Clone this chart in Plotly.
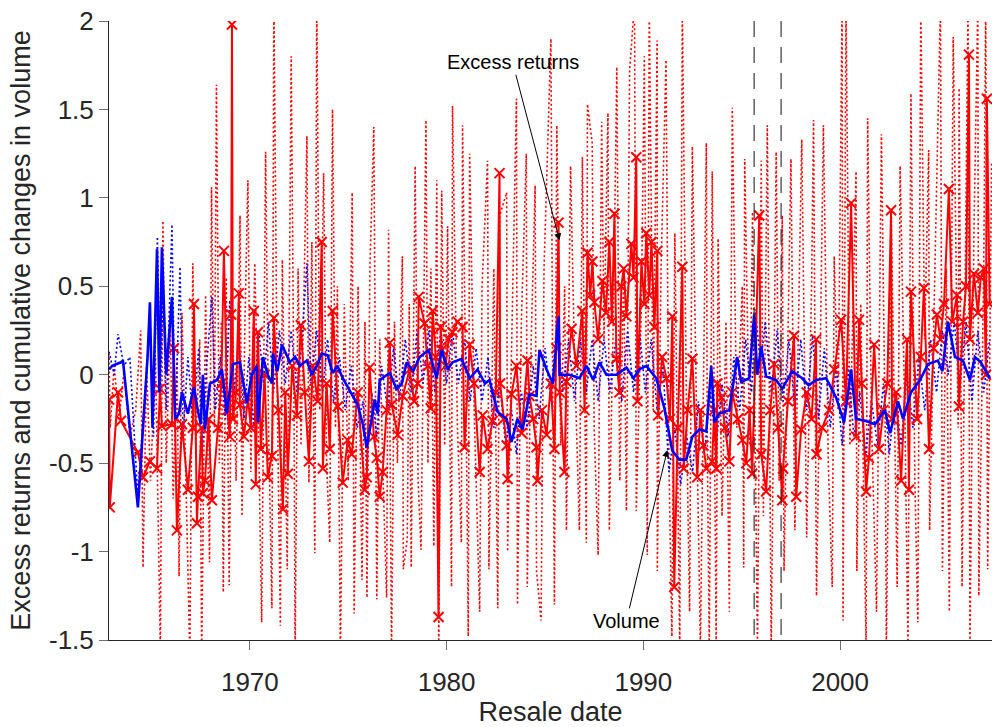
import plotly.graph_objects as go

# ---------------- data ----------------
# Excess returns (red solid line with x markers)
ret_x = [1962.84, 1962.88, 1963.30, 1963.45, 1964.31, 1964.57, 1964.92, 1965.28, 1965.43, 1965.53,
         1966.04, 1966.14, 1966.29, 1966.55, 1966.85, 1967.10, 1967.16, 1967.31, 1967.36, 1967.55,
         1967.61, 1967.72, 1967.90, 1968.07, 1968.38, 1968.55, 1968.68, 1968.85, 1968.98, 1969.05,
         1969.09, 1969.14, 1969.30, 1969.44, 1969.49, 1969.70, 1969.90, 1970.05, 1970.20, 1970.30,
         1970.41, 1970.56, 1970.75, 1970.91, 1971.12, 1971.22, 1971.45, 1971.68, 1971.80, 1971.93,
         1972.15, 1972.39, 1972.59, 1972.79, 1973.00, 1973.20, 1973.45, 1973.65, 1973.71, 1973.90,
         1974.06, 1974.21, 1974.47, 1974.72, 1974.97, 1975.18, 1975.48, 1975.84, 1975.94, 1976.09,
         1976.30, 1976.45, 1976.60, 1976.75, 1976.95, 1977.11, 1977.21, 1977.51, 1977.77, 1978.12,
         1978.35, 1978.53, 1978.58, 1978.88, 1979.05, 1979.19, 1979.29, 1979.45, 1979.59, 1979.70,
         1979.75, 1979.95, 1980.10, 1980.30, 1980.56, 1980.81, 1980.91, 1981.17, 1981.40, 1981.68,
         1981.83, 1982.08, 1982.34, 1982.50, 1982.69, 1982.72, 1982.90, 1983.05, 1983.10, 1983.30,
         1983.55, 1983.81, 1984.11, 1984.21, 1984.40, 1984.57, 1984.62, 1984.85, 1985.08, 1985.30,
         1985.48, 1985.58, 1985.69, 1985.75, 1985.99, 1986.09, 1986.35, 1986.60, 1986.90, 1987.01,
         1987.16, 1987.30, 1987.41, 1987.51, 1987.70, 1987.92, 1988.10, 1988.27, 1988.40, 1988.53,
         1988.63, 1988.78, 1988.88, 1989.00, 1989.14, 1989.39, 1989.50, 1989.64, 1989.70, 1989.90,
         1990.05, 1990.15, 1990.30, 1990.41, 1990.56, 1990.71, 1990.75, 1990.95, 1991.17, 1991.35,
         1991.47, 1991.57, 1991.75, 1991.98, 1992.05, 1992.25, 1992.49, 1992.74, 1992.90, 1993.05,
         1993.20, 1993.50, 1993.60, 1993.71, 1993.76, 1993.96, 1994.15, 1994.37, 1994.52, 1994.80,
         1995.03, 1995.23, 1995.40, 1995.53, 1995.89, 1995.99, 1996.24, 1996.45, 1996.65, 1996.85,
         1997.06, 1997.10, 1997.35, 1997.66, 1997.77, 1998.02, 1998.30, 1998.55, 1998.78, 1998.80,
         1999.09, 1999.44, 1999.70, 2000.05, 2000.30, 2000.56, 2000.81, 2000.96, 2001.10, 2001.32,
         2001.47, 2001.73, 2001.98, 2002.20, 2002.40, 2002.59, 2002.64, 2002.85, 2003.10, 2003.40,
         2003.50, 2003.60, 2003.91, 2004.10, 2004.26, 2004.52, 2004.75, 2004.92, 2005.10, 2005.28,
         2005.53, 2005.70, 2005.94, 2006.04, 2006.25, 2006.40, 2006.55, 2006.60, 2006.80, 2007.00,
         2007.15, 2007.31, 2007.41, 2007.46, 2007.60]
ret_y = [-0.14, -0.75, -0.10, -0.26, -0.44, -0.58, -0.49, -0.53, -0.08, -0.29,
         -0.28, 0.15, -0.88, -0.28, -0.65, -0.30, 0.40, -0.84, -0.69, -0.30,
         -0.67, -0.60, -0.25, -0.71, -0.30, -0.05, 0.70, -0.20, -0.35, 0.34,
         1.98, -0.25, -0.10, 0.46, -0.17, -0.35, -0.13, -0.30, 0.36, -0.62,
         0.24, -0.42, 0.00, -0.58, -0.46, 0.32, -0.20, -0.76, -0.10, -0.56,
         0.05, -0.23, 0.28, -0.10, -0.49, 0.05, -0.15, 0.75, -0.53, -0.05,
         -0.42, 0.36, -0.18, -0.61, -0.37, -0.45, -0.10, -0.65, -0.58, 0.04,
         -0.35, -0.47, -0.69, -0.55, -0.20, 0.18, -0.17, -0.34, -0.12, 0.03,
         -0.15, -0.05, 0.44, 0.29, 0.05, -0.19, 0.36, 0.10, -1.37, 0.27,
         0.14, 0.05, 0.20, 0.24, 0.30, 0.27, -0.41, 0.17, -0.05, -0.55,
         -0.23, -0.42, -0.26, -0.10, 1.14, -0.05, -0.25, -0.40, -0.59, -0.11,
         0.05, -0.33, 0.08, -0.12, -0.25, -0.41, -0.60, -0.20, -0.34, -0.05,
         -0.42, 0.15, 0.86, -0.10, -0.55, -0.04, 0.26, 0.05, 0.36, -0.20,
         0.69, 0.45, 0.64, 0.41, 0.20, 0.53, 0.35, 0.75, 0.30, 0.91,
         0.09, -0.10, 0.50, 0.60, 0.33, 0.74, 0.55, 1.23, -0.15, 0.64,
         0.40, 0.80, 0.45, 0.75, 0.27, 0.70, -0.23, 0.10, -0.02, -0.25,
         0.33, -1.20, -0.30, 0.61, -0.53, -0.20, 0.09, -0.58, -0.20, -0.40,
         -0.53, -0.49, -0.20, -0.53, -0.05, -0.13, -0.30, -0.49, -0.10, -0.25,
         -0.37, -0.50, -0.20, -0.56, 0.90, -0.45, -0.66, -0.20, 0.06, -0.30,
         -0.71, -0.53, -0.15, 0.22, -0.69, -0.31, -0.10, -0.25, 0.20, -0.45,
         -0.30, -0.20, 0.03, 0.31, -0.15, 0.97, -0.35, 0.31, -0.05, -0.66,
         -0.47, 0.17, -0.42, -0.20, -0.05, 0.93, -0.25, -0.10, -0.60, 0.20,
         -0.65, 0.47, -0.25, 0.10, 0.49, -0.42, 0.15, 0.34, 0.20, 0.40,
         1.05, 0.30, 0.45, -0.18, 0.30, 0.50, 1.81, 0.20, 0.57, 0.35,
         0.55, 0.60, 0.00, 1.56, 0.40]

# Individual excess returns (red dotted line)
ind_x = [1962.84, 1962.90, 1963.10, 1963.35, 1963.60, 1963.90, 1964.20, 1964.45, 1964.57, 1964.75,
         1964.95, 1965.20, 1965.45, 1965.58, 1965.75, 1965.95, 1966.10, 1966.30, 1966.40, 1966.55,
         1966.75, 1966.95, 1967.10, 1967.25, 1967.45, 1967.55, 1967.75, 1967.95, 1968.05, 1968.20,
         1968.30, 1968.45, 1968.55, 1968.65, 1968.80, 1968.95, 1969.10, 1969.30, 1969.50, 1969.60,
         1969.75, 1969.90, 1970.05, 1970.25, 1970.45, 1970.60, 1970.80, 1970.95, 1971.12, 1971.22,
         1971.40, 1971.55, 1971.65, 1971.80, 1971.90, 1972.10, 1972.25, 1972.30, 1972.45, 1972.60,
         1972.90, 1973.00, 1973.15, 1973.30, 1973.40, 1973.55, 1973.75, 1973.90, 1974.06, 1974.20,
         1974.35, 1974.45, 1974.60, 1974.80, 1975.00, 1975.20, 1975.30, 1975.50, 1975.70, 1975.85,
         1975.95, 1976.10, 1976.30, 1976.45, 1976.60, 1976.80, 1976.95, 1977.05, 1977.20, 1977.35,
         1977.50, 1977.75, 1977.80, 1978.00, 1978.10, 1978.20, 1978.40, 1978.55, 1978.70, 1978.95,
         1979.05, 1979.20, 1979.35, 1979.50, 1979.60, 1979.75, 1979.90, 1980.05, 1980.20, 1980.25,
         1980.30, 1980.55, 1980.75, 1980.81, 1981.00, 1981.10, 1981.17, 1981.40, 1981.68, 1981.80,
         1982.08, 1982.15, 1982.40, 1982.60, 1982.70, 1983.05, 1983.10, 1983.35, 1983.55, 1983.60,
         1983.80, 1984.05, 1984.10, 1984.30, 1984.50, 1984.57, 1984.80, 1984.95, 1985.30, 1985.40,
         1985.48, 1985.60, 1985.80, 1986.00, 1986.09, 1986.30, 1986.50, 1986.75, 1986.90, 1987.10,
         1987.16, 1987.40, 1987.50, 1987.70, 1987.88, 1988.00, 1988.20, 1988.27, 1988.50, 1988.65,
         1988.80, 1989.00, 1989.14, 1989.30, 1989.55, 1989.64, 1989.90, 1990.05, 1990.20, 1990.30,
         1990.50, 1990.70, 1990.71, 1990.90, 1991.15, 1991.30, 1991.45, 1991.60, 1991.85, 1991.98,
         1992.20, 1992.35, 1992.49, 1992.70, 1992.90, 1993.20, 1993.25, 1993.35, 1993.50, 1993.70,
         1993.80, 1994.00, 1994.20, 1994.37, 1994.52, 1994.75, 1995.03, 1995.10, 1995.15, 1995.40,
         1995.55, 1995.80, 1995.99, 1996.10, 1996.30, 1996.50, 1996.75, 1996.90, 1997.06, 1997.15,
         1997.50, 1997.70, 1997.90, 1998.05, 1998.30, 1998.55, 1998.65, 1998.80, 1999.00, 1999.15,
         1999.40, 1999.60, 1999.70, 1999.90, 2000.10, 2000.15, 2000.30, 2000.50, 2000.81, 2000.85,
         2001.05, 2001.32, 2001.40, 2001.60, 2001.85, 2002.10, 2002.30, 2002.35, 2002.60, 2002.90,
         2003.05, 2003.30, 2003.45, 2003.60, 2003.80, 2003.95, 2004.10, 2004.30, 2004.50, 2004.55,
         2004.80, 2005.10, 2005.20, 2005.40, 2005.55, 2005.75, 2006.00, 2006.05, 2006.20, 2006.50,
         2006.60, 2006.80, 2007.00, 2007.05, 2007.30, 2007.40, 2007.50, 2007.70]
ind_y = [0.12, -0.30, 0.05, -0.25, 0.02, -0.35, -0.20, 0.25, -1.09, 0.05,
         -0.60, 0.10, -1.55, 0.87, -0.50, 0.30, -0.70, 0.10, -1.14, 0.35,
         -0.60, -1.60, 0.63, -0.40, 0.20, -1.60, 0.45, -1.06, 1.06, -0.30,
         1.64, -0.50, 0.30, -1.23, 0.55, -1.19, 0.40, -0.60, 0.90, -0.80,
         0.30, 1.10, -0.55, 0.63, -0.40, -1.40, 1.26, -0.30, -1.32, 2.10,
         -0.20, -1.42, 0.65, -0.50, -1.10, 1.80, -0.30, -1.60, 0.60, -0.40,
         1.35, -0.61, 0.75, -1.01, 2.10, -0.20, 1.14, -0.50, -0.95, 1.50,
         -0.30, 0.50, -1.60, 0.40, -0.60, 1.03, -1.35, 0.50, -1.16, 0.30,
         -1.26, 0.60, 1.40, -1.27, 0.20, -0.70, -1.26, 0.82, -1.60, 0.30,
         -0.50, 0.67, -1.10, -0.93, 0.40, -1.09, 1.18, -0.60, -0.99, 1.44,
         -0.50, 0.60, -0.97, 1.10, -1.60, 1.04, -0.40, 0.84, -0.60, -1.20,
         1.52, -0.30, -0.95, 1.41, -0.30, -1.48, 1.25, -0.20, -1.34, 0.50,
         1.21, -1.10, 0.60, -1.32, 0.90, 1.03, -1.00, 0.40, 1.56, -1.30,
         0.30, 1.25, -1.20, 0.20, 1.07, -1.11, -1.39, 0.60, 1.90, -0.20,
         -1.30, 1.41, -0.40, 0.50, -0.88, 1.18, 0.10, -0.88, 1.23, -0.95,
         1.53, 1.31, -0.30, -1.02, 1.43, 0.20, 1.48, -0.88, 0.50, 1.74,
         -0.60, 0.60, -0.77, 1.72, 2.10, -0.77, 0.40, 1.80, -1.02, 2.10,
         -0.20, 1.89, -1.11, 0.60, 1.78, -0.50, -1.48, 0.80, -1.55, 2.10,
         -0.30, -1.34, 1.29, -0.20, -1.55, 1.31, -0.40, -1.55, 1.15, -1.50,
         0.77, -0.80, 0.30, -1.34, 1.51, -0.30, 0.50, -1.09, 1.22, -0.40,
         0.92, -1.55, 1.21, -0.80, 1.41, -1.55, 1.26, -0.60, 0.90, -1.11,
         1.22, -0.88, 0.40, 1.33, -0.92, 0.50, 1.44, -1.25, 0.20, 1.41,
         -0.50, -1.20, 0.67, -0.20, 2.10, -1.39, 2.10, -0.40, 1.15, -1.11,
         0.40, -1.55, 1.45, -0.30, -1.34, 1.36, -0.40, -1.55, 0.90, -1.20,
         1.18, -0.30, -1.55, 1.59, -0.60, -1.40, 2.10, 0.20, 1.27, -0.88,
         0.50, 2.10, -1.11, 0.60, -1.34, 1.91, -0.30, 1.62, -1.20, 2.10,
         -1.55, 0.80, 2.10, -1.25, 0.60, 2.10, -1.10, 1.20]

# Cumulative changes in volume (blue solid line)
vol_x = [1962.84, 1963.00, 1963.45, 1963.55, 1964.31, 1964.80, 1964.92, 1965.05, 1965.28, 1965.40,
         1965.53, 1965.75, 1966.04, 1966.20, 1966.40, 1966.55, 1966.85, 1967.16, 1967.35, 1967.51,
         1967.61, 1967.72, 1967.97, 1968.33, 1968.58, 1968.83, 1969.14, 1969.49, 1969.85, 1970.10,
         1970.35, 1970.41, 1970.66, 1970.91, 1971.12, 1971.17, 1971.40, 1971.63, 1972.03, 1972.30,
         1972.54, 1972.89, 1973.15, 1973.40, 1973.65, 1973.95, 1974.21, 1974.45, 1974.72, 1975.23,
         1975.48, 1975.74, 1975.94, 1976.19, 1976.35, 1976.50, 1976.60, 1977.11, 1977.45, 1977.72,
         1977.97, 1978.30, 1978.63, 1979.09, 1979.49, 1979.75, 1980.05, 1980.30, 1980.76, 1981.17,
         1981.57, 1981.95, 1982.18, 1982.59, 1983.05, 1983.30, 1983.60, 1983.86, 1984.21, 1984.57,
         1984.72, 1985.08, 1985.40, 1985.69, 1985.74, 1986.24, 1986.75, 1987.11, 1987.45, 1987.77,
         1988.12, 1988.63, 1989.14, 1989.50, 1989.80, 1990.15, 1990.66, 1991.07, 1991.47, 1991.83,
         1992.18, 1992.49, 1992.84, 1993.20, 1993.45, 1993.61, 1993.86, 1994.37, 1994.77, 1994.97,
         1995.38, 1995.63, 1995.79, 1995.99, 1996.24, 1996.75, 1997.06, 1997.56, 1998.07, 1998.40,
         1998.78, 1999.29, 1999.80, 2000.20, 2000.56, 2000.81, 2001.27, 2001.78, 2002.28, 2002.54,
         2002.94, 2003.20, 2003.60, 2004.06, 2004.47, 2004.97, 2005.20, 2005.48, 2005.84, 2006.24,
         2006.60, 2006.85, 2007.15, 2007.61]
vol_y = [0.03, 0.05, 0.07, 0.08, -0.75, 0.10, 0.41, -0.30, 0.71, -0.10,
         0.72, 0.00, 0.44, -0.25, -0.22, -0.10, -0.22, -0.07, -0.20, -0.28,
         0.00, -0.31, -0.05, -0.03, 0.03, -0.22, 0.06, 0.07, -0.16, 0.00,
         0.05, -0.27, 0.10, 0.00, -0.05, 0.12, 0.02, 0.17, 0.07, 0.10,
         0.05, 0.08, 0.00, 0.05, 0.12, 0.11, 0.01, 0.05, -0.02, -0.12,
         -0.17, -0.28, -0.41, -0.25, -0.14, -0.22, -0.03, 0.01, -0.08, -0.05,
         0.07, 0.02, 0.10, 0.14, -0.02, 0.14, 0.03, 0.07, 0.09, -0.02,
         0.03, -0.05, -0.03, -0.21, -0.25, -0.38, -0.25, -0.31, -0.11, -0.12,
         0.14, 0.03, -0.05, 0.33, 0.00, 0.00, -0.02, 0.05, -0.03, 0.07,
         0.00, 0.00, 0.04, -0.02, 0.03, 0.05, -0.02, -0.19, -0.43, -0.48,
         -0.48, -0.35, -0.31, -0.32, 0.05, -0.27, -0.22, -0.20, 0.10, -0.04,
         -0.02, 0.34, 0.00, 0.16, -0.01, -0.03, -0.08, 0.02, -0.02, -0.06,
         -0.03, -0.02, -0.13, -0.27, 0.03, -0.25, -0.26, -0.28, -0.20, -0.33,
         -0.15, -0.25, -0.10, -0.03, 0.06, 0.08, 0.02, 0.30, 0.10, 0.08,
         -0.03, 0.10, 0.07, -0.02]

# Individual volume changes (blue dotted line)
ivol_x = [1962.84, 1963.10, 1963.30, 1963.60, 1963.90, 1964.31, 1964.60, 1964.92, 1965.10, 1965.30,
          1965.45, 1965.60, 1965.75, 1966.04, 1966.20, 1966.45, 1966.60, 1966.85, 1967.10, 1967.40,
          1967.60, 1967.80, 1968.07, 1968.25, 1968.50, 1968.75, 1968.98, 1969.20, 1969.45, 1969.70,
          1969.95, 1970.20, 1970.45, 1970.70, 1970.95, 1971.20, 1971.50, 1971.80, 1972.10, 1972.40,
          1972.65, 1972.90, 1973.10, 1973.40, 1973.70, 1973.95, 1974.25, 1974.55, 1974.85, 1975.15,
          1975.45, 1975.75, 1975.95, 1976.20, 1976.45, 1976.70, 1977.00, 1977.30, 1977.60, 1977.90,
          1978.20, 1978.50, 1978.80, 1979.10, 1979.40, 1979.70, 1980.00, 1980.30, 1980.60, 1980.90,
          1981.20, 1981.50, 1981.80, 1982.10, 1982.40, 1982.70, 1983.00, 1983.30, 1983.55, 1983.80,
          1984.10, 1984.40, 1984.70, 1985.00, 1985.30, 1985.60, 1985.90, 1986.20, 1986.50, 1986.80,
          1987.10, 1987.40, 1987.70, 1988.00, 1988.30, 1988.60, 1988.90, 1989.20, 1989.50, 1989.80,
          1990.10, 1990.40, 1990.70, 1991.00, 1991.30, 1991.60, 1991.90, 1992.20, 1992.50, 1992.80,
          1993.10, 1993.40, 1993.70, 1994.00, 1994.30, 1994.60, 1994.90, 1995.20, 1995.50, 1995.70,
          1995.95, 1996.20, 1996.50, 1996.80, 1997.10, 1997.40, 1997.70, 1998.00, 1998.30, 1998.60,
          1998.90, 1999.20, 1999.50, 1999.80, 2000.10, 2000.40, 2000.70, 2001.00, 2001.30, 2001.60,
          2001.90, 2002.20, 2002.50, 2002.80, 2003.10, 2003.40, 2003.70, 2004.00, 2004.30, 2004.60,
          2004.90, 2005.20, 2005.50, 2005.80, 2006.10, 2006.40, 2006.70, 2007.00, 2007.30, 2007.60]
ivol_y = [0.13, 0.00, 0.23, 0.05, 0.10, -0.70, -0.20, 0.30, -0.35, 0.78,
          -0.10, 0.50, -0.20, 0.85, -0.30, 0.61, -0.35, 0.10, -0.25, 0.15,
          -0.40, 0.05, 0.44, -0.20, 0.10, -0.25, 0.42, -0.10, 0.20, -0.25,
          0.10, -0.30, 0.25, -0.05, 0.30, -0.10, 0.25, -0.05, 0.25, -0.10,
          0.20, 0.63, -0.05, 0.25, -0.10, 0.20, -0.15, 0.10, -0.20, 0.05,
          -0.30, -0.15, -0.50, -0.10, -0.35, 0.05, -0.20, 0.15, -0.15, 0.20,
          -0.10, 0.25, -0.05, 0.25, -0.10, 0.25, -0.05, 0.25, -0.05, 0.20,
          -0.15, 0.15, -0.15, 0.10, -0.30, -0.05, -0.40, -0.20, -0.45, -0.10,
          -0.30, 0.05, -0.25, 0.15, -0.15, 0.30, -0.10, 0.20, -0.15, 0.20,
          -0.10, 0.20, -0.15, 0.20, -0.10, 0.20, -0.15, 0.25, -0.10, 0.25,
          -0.10, 0.20, -0.20, 0.05, -0.55, -0.30, -0.62, -0.35, -0.55, -0.15,
          -0.45, -0.10, -0.40, -0.05, -0.35, 0.10, -0.20, 0.20, -0.10, 0.37,
          0.05, 0.30, -0.10, 0.25, -0.15, 0.20, -0.20, 0.20, -0.20, 0.22,
          -0.25, 0.15, -0.30, 0.05, -0.40, 0.05, -0.35, -0.10, -0.45, -0.15,
          -0.40, -0.05, -0.45, -0.10, -0.40, 0.00, -0.30, 0.10, -0.20, 0.20,
          -0.10, 0.25, 0.00, 0.30, -0.05, 0.30, -0.15, 0.25, -0.10, 0.20]

event_dates = [1995.63, 1997.0]
x_ticks = [1970, 1980, 1990, 2000]
y_ticks = [-1.5, -1, -0.5, 0, 0.5, 1, 1.5, 2]
y_tick_text = ["-1.5", "-1", "-0.5", "0", "0.5", "1", "1.5", "2"]

# annotation targets (data coordinates)
ann_ret = (1985.74, 0.76)
ann_vol = (1991.22, -0.425)

RED = "#ff0000"
BLUE = "#0000ff"
INK = "#262626"
FONT = "Liberation Sans, Arial, sans-serif"

fig = go.Figure()
fig.add_trace(go.Scatter(x=ind_x, y=ind_y, mode="lines",
                         line=dict(color=RED, width=1.6, dash="2px,2.5px"), hoverinfo="skip"))
fig.add_trace(go.Scatter(x=ivol_x, y=ivol_y, mode="lines",
                         line=dict(color=BLUE, width=1.6, dash="2px,2.5px"), hoverinfo="skip"))
fig.add_trace(go.Scatter(x=ret_x, y=ret_y, mode="lines+markers",
                         line=dict(color=RED, width=2),
                         marker=dict(symbol="x-thin", size=10, color=RED,
                                     line=dict(color=RED, width=2))))
fig.add_trace(go.Scatter(x=vol_x, y=vol_y, mode="lines",
                         line=dict(color=BLUE, width=2.6)))

for d in event_dates:
    fig.add_shape(type="line", x0=d, x1=d, y0=1, y1=0, xref="x", yref="paper",
                  line=dict(color=INK, width=1.1, dash="16px,10px"))

fig.add_annotation(x=ann_ret[0], y=ann_ret[1], text="Excess returns",
                   showarrow=True, arrowhead=2, arrowsize=1.4, arrowwidth=1, arrowcolor="black",
                   ax=-47, ay=-178, font=dict(size=20, color="black", family=FONT))
fig.add_annotation(x=ann_vol[0], y=ann_vol[1], text="Volume",
                   showarrow=True, arrowhead=2, arrowsize=1.4, arrowwidth=1, arrowcolor="black",
                   ax=-41, ay=171, font=dict(size=20, color="black", family=FONT))

fig.update_layout(
    width=992, height=727,
    margin=dict(l=109, r=0, t=21, b=87, autoexpand=False),
    paper_bgcolor="white", plot_bgcolor="white",
    showlegend=False, hovermode=False,
    font=dict(family=FONT, color=INK),
    xaxis=dict(range=[1962.84, 2007.72], tickvals=x_ticks, ticktext=[str(t) for t in x_ticks],
               showgrid=False, zeroline=False, showline=True, linecolor=INK, linewidth=1,
               ticks="outside", ticklen=9, tickcolor="#6e6e6e", tickfont=dict(size=26, color=INK),
               ticklabelstandoff=10, ticklabeloverflow="allow", automargin=False,
               title=dict(text="Resale date", font=dict(size=27, color=INK), standoff=4)),
    yaxis=dict(range=[-1.5, 2], tickvals=y_ticks, ticktext=y_tick_text,
               showgrid=False, zeroline=False, showline=True, linecolor=INK, linewidth=1,
               ticks="outside", ticklen=9, tickcolor="#6e6e6e", tickfont=dict(size=26, color=INK),
               ticklabeloverflow="allow", automargin=False,
               title=dict(text="Excess returns and cumulative changes in volume",
                          font=dict(size=27, color=INK), standoff=10)),
)

# remove the browser's default 8px body margin so the figure fills the window exactly
fig.write_html("out.html", config={"displayModeBar": False, "staticPlot": True},
               post_script="document.body.style.margin='0';document.body.style.overflow='hidden';")
